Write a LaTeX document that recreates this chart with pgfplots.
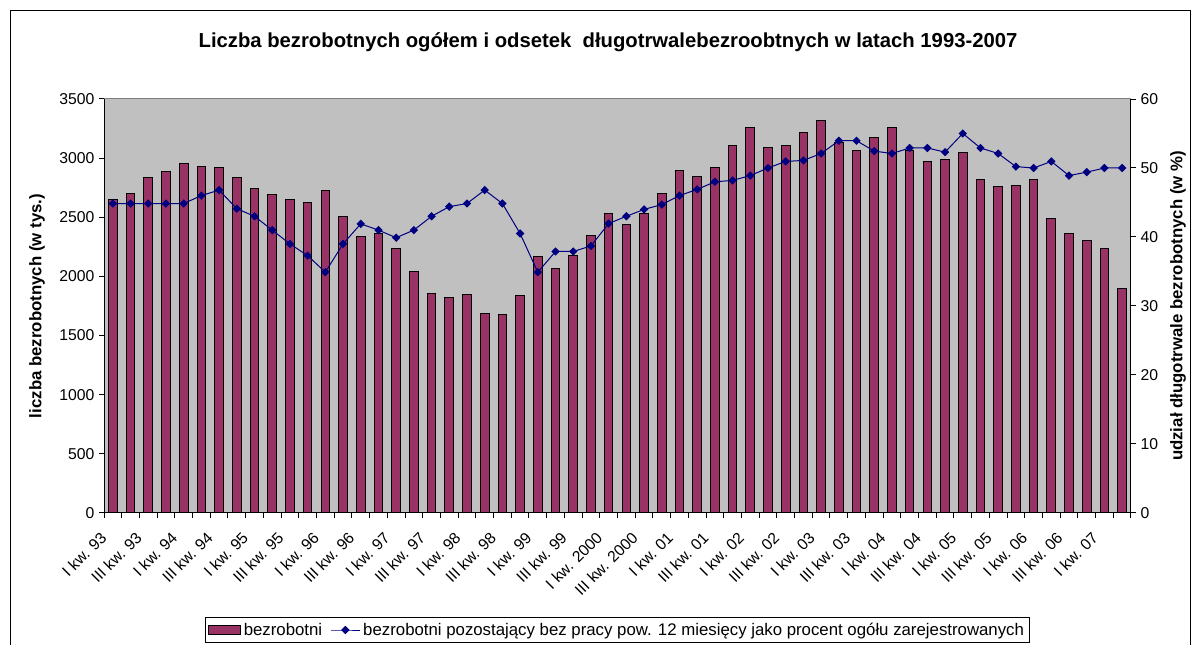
\documentclass[border=0pt]{standalone}
\usepackage{fontspec}
\setmainfont{Liberation Sans}
\usepackage{pgfplots}
\usepackage{pgfplotstable}
\pgfplotsset{compat=1.18}
\definecolor{barc}{HTML}{993366}
\definecolor{linec}{HTML}{000080}
\definecolor{plotbg}{HTML}{C0C0C0}
\definecolor{plotframe}{HTML}{808080}
\pgfplotsset{
  mylineleg/.style={legend image code/.code={\draw[mark repeat=2,mark phase=2,##1] plot coordinates {(0pt,0pt) (11pt,0pt) (22pt,0pt)};}},
  mybarleg/.style={legend image code/.code={\draw[fill=barc,draw=black,line width=0.75pt] (0pt,-3.4pt) rectangle (24pt,3.4pt);}},
}

\pgfplotstableread{
x y
0 2653
1 2704
2 2834
3 2888
4 2952
5 2930
6 2919
7 2834
8 2746
9 2696
10 2653
11 2628
12 2727
13 2509
14 2340
15 2360
16 2233
17 2038
18 1857
19 1826
20 1846
21 1685
22 1674
23 1835
24 2168
25 2069
26 2179
27 2348
28 2532
29 2436
30 2532
31 2704
32 2896
33 2842
34 2919
35 3110
36 3260
37 3091
38 3110
39 3218
40 3314
41 3130
42 3068
43 3175
44 3260
45 3068
46 2972
47 2992
48 3048
49 2823
50 2758
51 2769
52 2823
53 2492
54 2360
55 2306
56 2233
57 1900
}\bars

\pgfplotstableread{
x y
0 44.85
1 44.85
2 44.85
3 44.85
4 44.85
5 46.0
6 46.8
7 44.1
8 43.0
9 41.0
10 39.0
11 37.3
12 34.9
13 39.0
14 41.9
15 41.0
16 39.9
17 41.0
18 43.0
19 44.4
20 44.85
21 46.8
22 44.85
23 40.5
24 34.9
25 37.9
26 37.9
27 38.7
28 41.95
29 43.0
30 44.0
31 44.7
32 46.0
33 46.9
34 48.0
35 48.2
36 48.9
37 50.0
38 50.95
39 51.1
40 52.1
41 53.95
42 53.95
43 52.45
44 52.1
45 52.9
46 52.9
47 52.3
48 55.0
49 52.9
50 52.1
51 50.2
52 50.0
53 50.95
54 48.9
55 49.4
56 50.0
57 50.0
}\share

\begin{document}
\begin{tikzpicture}
\useasboundingbox (0,0) rectangle (894.75pt,483.75pt);
\fill[white] (0,0) rectangle (894.75pt,483.75pt);
\draw[line width=0.75pt] (7.5pt,-10pt) -- (7.5pt,475.5pt) -- (892.5pt,475.5pt) -- (892.5pt,-10pt);

\begin{axis}[
  at={(78pt,99pt)}, anchor=south west, scale only axis,
  width=770.25pt, height=310.5pt,
  xmin=-0.5, xmax=57.5, ymin=0, ymax=3500,
  axis x line*=bottom, axis y line*=left,
  axis line style={-, black, line width=0.75pt},
  axis background/.style={fill=plotbg, draw=plotframe, line width=0.75pt},
  tick align=outside, major tick length=3.75pt,
  tick style={black, line width=0.75pt},
  ytick={0,500,...,3500},
  xtick={-0.5,0.5,...,57.5}, xticklabels={},
  extra x ticks={0,2,...,56},
  extra x tick labels={I kw. 93,III kw. 93,I kw. 94,III kw. 94,I kw. 95,III kw. 95,I kw. 96,III kw. 96,I kw. 97,III kw. 97,I kw. 98,III kw. 98,I kw. 99,III kw. 99,I kw. 2000,III kw. 2000,I kw. 01,III kw. 01,I kw. 02,III kw. 02,I kw. 03,III kw. 03,I kw. 04,III kw. 04,I kw. 05,III kw. 05,I kw. 06,III kw. 06,I kw. 07},
  extra x tick style={major tick length=0pt, tick style={draw=none},
     xticklabel style={xshift=-4.5pt, yshift=-14pt, rotate=45, anchor=east}},
  ticklabel style={font=\fontsize{11.8}{13}\selectfont},
  /pgf/number format/assume math mode=true,
  yticklabel style={/pgf/number format/1000 sep={}},
  ylabel={liczba bezrobotnych (w tys.)},
  ylabel style={font=\bfseries\fontsize{12.6}{14}\selectfont, at={(axis description cs:-0.0652,0.5)}, anchor=center},
]
\addplot[ybar, bar width=6.5pt, fill=barc, draw=black, line width=0.75pt] table[x=x,y=y] {\bars};
\end{axis}

\begin{axis}[
  at={(78pt,99pt)}, anchor=south west, scale only axis,
  width=770.25pt, height=310.5pt,
  xmin=-0.5, xmax=57.5, ymin=0, ymax=60,
  axis x line=none, axis y line*=right,
  axis line style={-, black, line width=0.75pt},
  tick align=outside, major tick length=3.75pt,
  tick style={black, line width=0.75pt},
  ytick={0,10,...,60},
  ticklabel style={font=\fontsize{11.8}{13}\selectfont},
  /pgf/number format/assume math mode=true,
  ylabel={udział długotrwale bezrobotnych (w \%)},
  ylabel style={font=\bfseries\fontsize{12.6}{14}\selectfont, at={(axis description cs:1.0458,0.5)}, anchor=center},
  legend columns=-1,
  legend style={at={(axis description cs:0.0983,-0.2512)}, anchor=north west,
     draw=black, line width=0.75pt, font=\fontsize{12.6}{14}\selectfont,
     inner sep=2pt,
     /tikz/every even column/.append style={column sep=4pt}},
]
\addlegendimage{mybarleg}
\addlegendentry{bezrobotni}
\addplot[linec, line width=0.75pt, mark=square*, mark size=1.85pt, mark options={fill=linec, solid, rotate=45}, mylineleg]
  table[x=x,y=y] {\share};
\addlegendentry{bezrobotni pozostający bez pracy pow. 12 miesięcy jako procent ogółu zarejestrowanych}
\end{axis}

\node[font=\bfseries\fontsize{15.2}{17}\selectfont] at (456pt,452.25pt) {Liczba bezrobotnych ogółem i odsetek\ \ długotrwalebezroobtnych w latach 1993-2007};
\end{tikzpicture}
\end{document}
